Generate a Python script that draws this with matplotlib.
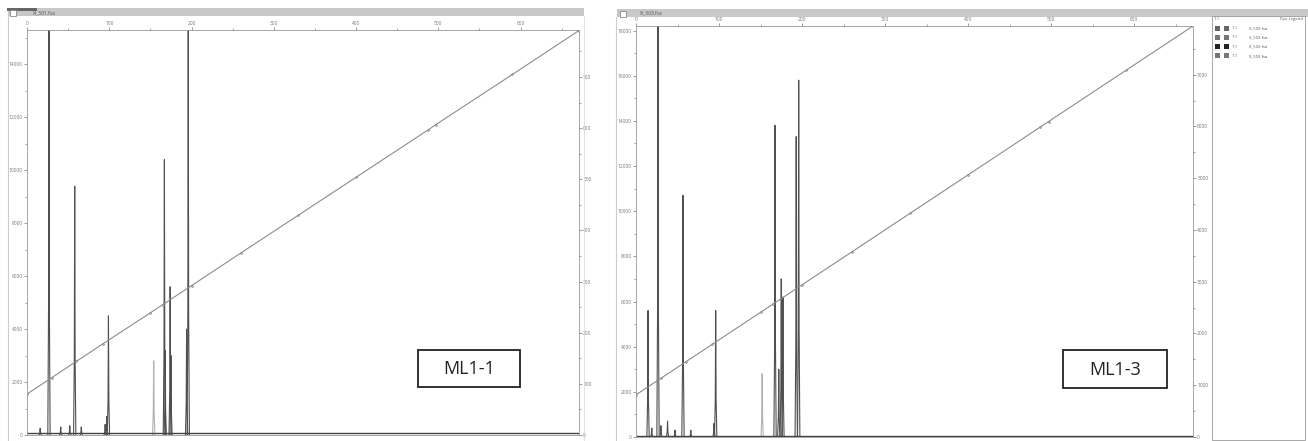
import numpy as np
import matplotlib as mpl
import matplotlib.pyplot as plt
from matplotlib.patches import Rectangle
from matplotlib.ticker import MultipleLocator

mpl.rcParams['font.family'] = ['Open Sans', 'DejaVu Sans']

# peaks (size in bp, height in RFU, shade)
left_pos = [16, 26.7, 41, 52, 58, 66, 95, 97, 99, 154, 167, 168, 174, 175, 194, 196]
left_hgt = [250, 16000, 300, 350, 9400, 300, 400, 700, 4500, 2800, 10400, 3200, 5600, 3000, 4000, 15300]
left_light = [154]

right_pos = [14.5, 19, 26.5, 30, 38, 47, 56.6, 66, 94, 96, 152, 167.5, 172, 175, 177, 193, 196]
right_hgt = [5600, 400, 19000, 500, 700, 300, 10700, 300, 600, 5600, 2800, 13800, 3000, 7000, 6200, 13300, 15800]
right_light = [152]

# size standard calibration points (size vs. scan)
std_x = [0, 30, 60, 92, 150, 165, 200, 260, 330, 400, 487, 497, 590, 671]
left_std_y = [80, 112, 144, 178, 239, 255, 292, 356, 430, 504, 596, 607, 705, 791]
right_std_y = [815, 1134, 1452, 1792, 2408, 2567, 2939, 3576, 4320, 5063, 5988, 6094, 7081, 7940]

W, H = 1308, 441
fig = plt.figure(figsize=(W / 100, H / 100), dpi=100, facecolor='white')

# chrome layer in pixel coords
bg = fig.add_axes([0, 0, 1, 1])
bg.set_xlim(0, W)
bg.set_ylim(H, 0)
bg.axis('off')
bg.add_patch(Rectangle((8, 8), 576, 8, fc='#c8c8c8', ec='none'))
bg.add_patch(Rectangle((7, 8), 30, 3, fc='#666666', ec='none'))
bg.add_patch(Rectangle((10, 10), 6, 6, fc='white', ec='#888888', lw=0.6))
bg.text(33, 13, 'XI_501.fsa', fontsize=3.5, va='center', color='#555555')
bg.plot([8, 8], [16, H], color='#cccccc', lw=0.8)
bg.plot([584, 584], [16, H], color='#dddddd', lw=0.6)

bg.add_patch(Rectangle((617, 9), 691, 8, fc='#c8c8c8', ec='none'))
bg.add_patch(Rectangle((620, 11), 6, 6, fc='white', ec='#888888', lw=0.6))
bg.text(640, 13, 'XI_503.fsa', fontsize=3.5, va='center', color='#555555')
bg.plot([616, 616], [17, H], color='#cccccc', lw=0.8)

# dye legend panel
bg.add_patch(Rectangle((1212, 16), 93, 424, fc='white', ec='#999999', lw=0.6))
bg.text(1214, 19, '1-1', fontsize=3, va='center', color='#555555')
bg.text(1303, 19, 'Dye Legend', fontsize=3, va='center', ha='right', color='#555555')
for i, shade in enumerate(['#666666', '#777777', '#222222', '#777777']):
    yy = 28 + i * 9.3
    bg.add_patch(Rectangle((1215, yy - 2.5), 5, 5, fc=shade, ec='none'))
    bg.add_patch(Rectangle((1224, yy - 2.5), 5, 5, fc=shade, ec='none'))
    bg.text(1232, yy, '1-1', fontsize=3, va='center', color='#555555')
    bg.text(1249, yy, 'XI_503.fsa', fontsize=3, va='center', color='#555555')


def panel(rect_px, pos, hgt, light, ymax, std_y, ymax2, r_major, label, box_px):
    x0, y0, x1, y1 = rect_px
    ax = fig.add_axes([x0 / W, (H - y1) / H, (x1 - x0) / W, (y1 - y0) / H])
    for p, h in zip(pos, hgt):
        c = '#b0b0b0' if p in light else '#505050'
        ax.plot([p - 1.4, p - 0.5, p, p + 0.5, p + 1.4], [0, h * 0.3, h, h * 0.3, 0],
                color=c, lw=0.8)
    ax.plot([0, 671], [60, 60], color='#444444', lw=1.0)
    ax.set_xlim(0, 671)
    ax.set_ylim(0, ymax)
    ax.xaxis.tick_top()
    ax.xaxis.set_major_locator(MultipleLocator(100))
    ax.xaxis.set_minor_locator(MultipleLocator(50))
    ax.yaxis.set_major_locator(MultipleLocator(2000))
    ax.yaxis.set_minor_locator(MultipleLocator(1000))
    ax.tick_params(which='both', labelsize=3.5, colors='#777777', length=2, width=0.5, pad=1)
    ax.tick_params(which='minor', length=1.2)
    for s in ax.spines.values():
        s.set_color('#999999')
        s.set_linewidth(0.6)

    ax2 = ax.twinx()
    ax2.plot(std_x, std_y, color='#8c8c8c', lw=0.8, marker='D', ms=1.3,
             mfc='#bbbbbb', mec='#777777', mew=0.3)
    ax2.set_ylim(0, ymax2)
    ax2.yaxis.set_major_locator(MultipleLocator(r_major))
    ax2.yaxis.set_minor_locator(MultipleLocator(r_major / 2))
    ax2.tick_params(which='both', labelsize=3.5, colors='#777777', length=2, width=0.5, pad=1)
    ax2.tick_params(which='minor', length=1.2)
    for s in ax2.spines.values():
        s.set_visible(False)

    bx0, by0, bx1, by1 = box_px
    bg.add_patch(Rectangle((bx0, by0), bx1 - bx0, by1 - by0, fc='white', ec='#222222',
                           lw=1.3, zorder=10))
    bg.text((bx0 + bx1) / 2, (by0 + by1) / 2 + 1, label, fontsize=13, ha='center',
            va='center', color='#222222', zorder=11)
    return ax


panel((27, 30, 579, 435), left_pos, left_hgt, left_light, 15300,
      left_std_y, 792, 100, 'ML1-1', (418, 350, 520, 387))
panel((636, 26, 1193, 437), right_pos, right_hgt, right_light, 18200,
      right_std_y, 7940, 1000, 'ML1-3', (1063, 350, 1167, 388))

# keep box layer on top
bg.set_zorder(5)
bg.patch.set_alpha(0)

plt.savefig('out.png', dpi=100, facecolor='white')
